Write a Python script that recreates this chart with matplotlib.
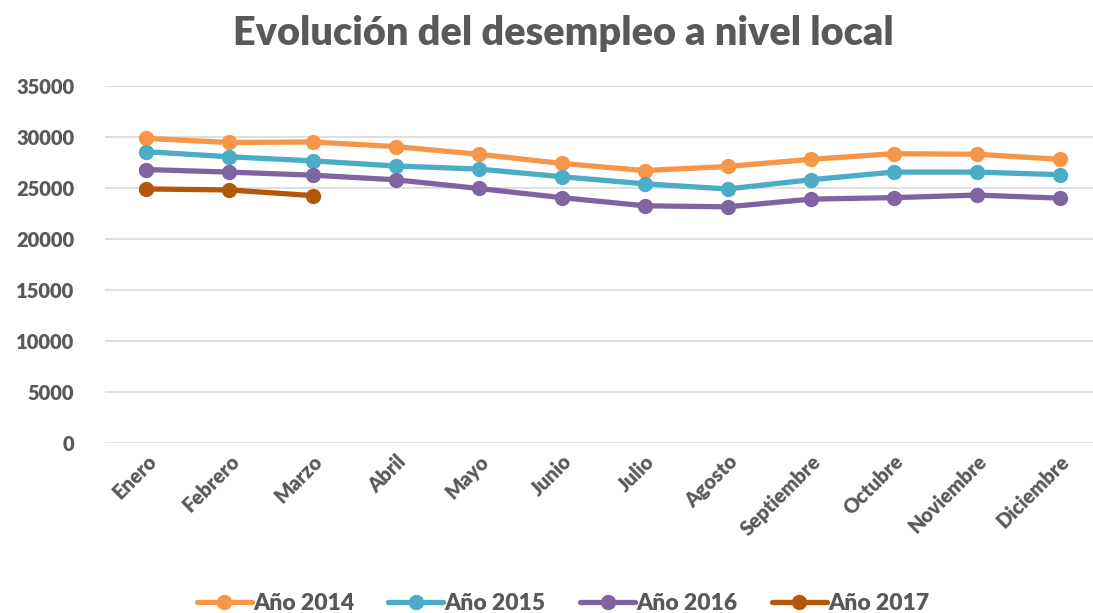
import matplotlib
matplotlib.use("Agg")
import matplotlib.pyplot as plt

plt.rcParams['font.family'] = ['Lato', 'DejaVu Sans']

meses = ['Enero', 'Febrero', 'Marzo', 'Abril', 'Mayo', 'Junio', 'Julio',
         'Agosto', 'Septiembre', 'Octubre', 'Noviembre', 'Diciembre']

anio_2014 = [29850, 29450, 29500, 29050, 28300, 27400, 26700, 27100, 27800, 28350, 28300, 27800]
anio_2015 = [28550, 28050, 27650, 27150, 26850, 26100, 25400, 24900, 25800, 26550, 26550, 26300]
anio_2016 = [26800, 26550, 26250, 25800, 24950, 24050, 23250, 23150, 23900, 24050, 24300, 24000]
anio_2017 = [24900, 24800, 24250]

series = [
    ('Año 2014', anio_2014, '#F79646'),
    ('Año 2015', anio_2015, '#4BACC6'),
    ('Año 2016', anio_2016, '#8064A2'),
    ('Año 2017', anio_2017, '#B65708'),
]

gris = '#595959'

fig = plt.figure(figsize=(10.93, 6.13), dpi=100)
ax = fig.add_axes([0.096, 0.277, 0.904, 0.583])

for nombre, valores, color in series:
    ax.plot(range(len(valores)), valores, color=color, lw=3.8,
            marker='o', markersize=10, label=nombre, solid_capstyle='round')

ax.set_ylim(0, 35000)
ax.set_yticks(range(0, 35001, 5000))
ax.set_xlim(-0.5, 11.4)
ax.set_xticks(range(len(meses)))
ax.set_xticklabels(meses, rotation=45, ha='right', rotation_mode='anchor')

ax.grid(axis='y', color='#D9D9D9', lw=1.2)
ax.set_axisbelow(True)
for s in ax.spines.values():
    s.set_visible(False)
ax.tick_params(length=0, colors=gris, labelsize=14.5)
ax.tick_params(axis='y', pad=22)
ax.tick_params(axis='x', pad=6)
for lab in ax.get_xticklabels() + ax.get_yticklabels():
    lab.set_fontweight('heavy')

fig.suptitle('Evolución del desempleo a nivel local', x=0.515, y=0.975,
             fontsize=28.5, fontweight='heavy', color=gris)

fig.legend(loc='lower center', bbox_to_anchor=(0.515, -0.035), ncol=4,
           frameon=False, prop={'size': 16.5, 'weight': 'heavy'},
           labelcolor=gris, handlelength=2.4, handletextpad=0.05,
           columnspacing=1.5)

fig.savefig('out.png', dpi=100)
